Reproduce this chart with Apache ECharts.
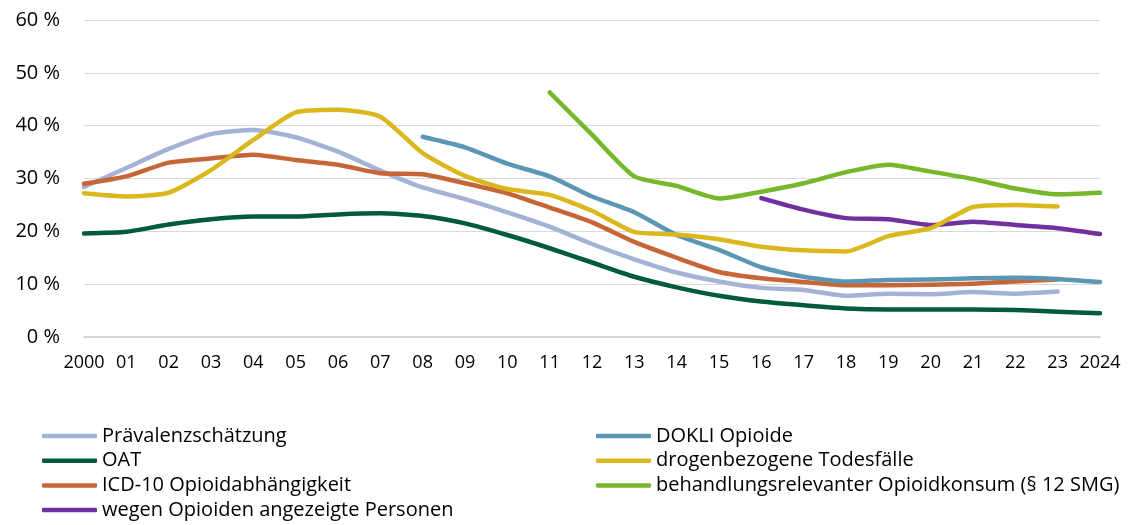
<!DOCTYPE html>
<html>
<head>
    <meta charset="utf-8">
    <title>Opioide</title>
    <script src="https://cdn.jsdelivr.net/npm/echarts@6/dist/echarts.min.js"></script>
    <style>
        body { margin: 0; background: #fff; }
    </style>
</head>
<body>
    <div id="main" style="width: 1131px; height: 525px;"></div>
    <script type="text/javascript">
    var years = ['2000', '01', '02', '03', '04', '05', '06', '07', '08', '09', '10', '11', '12',
        '13', '14', '15', '16', '17', '18', '19', '20', '21', '22', '23', '2024'];

    var praevalenz = [28.4, 32, 35.6, 38.4, 39.2, 37.8, 35.1, 31.5, 28.3, 26.1, 23.6, 20.9, 17.6,
        14.7, 12.2, 10.5, 9.3, 8.9, 7.8, 8.2, 8.1, 8.5, 8.2, 8.6, null];
    var oat = [19.6, 19.9, 21.3, 22.3, 22.8, 22.8, 23.2, 23.4, 22.9, 21.5, 19.3, 16.8, 14.1,
        11.4, 9.4, 7.8, 6.7, 6.0, 5.4, 5.2, 5.2, 5.2, 5.1, 4.8, 4.5];
    var icd10 = [29, 30.4, 33, 33.8, 34.5, 33.5, 32.6, 31, 30.8, 29.1, 27.2, 24.5, 21.7,
        18, 15, 12.3, 11.1, 10.4, 9.8, 9.8, 9.9, 10.1, 10.5, 10.9, null];
    var angezeigt = [null, null, null, null, null, null, null, null, null, null, null, null, null,
        null, null, null, 26.3, 24.1, 22.5, 22.3, 21.2, 21.8, 21.2, 20.6, 19.5];
    var dokli = [null, null, null, null, null, null, null, null, 37.9, 35.9, 32.8, 30.4, 26.6,
        23.6, 19.3, 16.5, 13.2, 11.4, 10.5, 10.8, 10.9, 11.1, 11.2, 11.0, 10.4];
    var todesfaelle = [27.2, 26.6, 27.3, 31.6, 37.3, 42.5, 43, 41.7, 34.8, 30.5, 28, 26.9, 23.9,
        19.9, 19.4, 18.5, 17.1, 16.4, 16.2, 19.1, 20.6, 24.6, 25.0, 24.7, null];
    var behandlung = [null, null, null, null, null, null, null, null, null, null, null, 46.3, 38.3,
        30.4, 28.6, 26.2, 27.5, 29.1, 31.2, 32.6, 31.3, 29.9, 28.1, 27.0, 27.3];

    var yTicks = [0, 10, 20, 30, 40, 50, 60];

    var font = '"Open Sans", "Noto Sans", sans-serif';

    function line(name, data, color) {
        return {
            name: name,
            type: 'line',
            data: data,
            smooth: 0.2,
            symbol: 'none',
            connectNulls: false,
            lineStyle: { width: 4.5, color: color, cap: 'round', join: 'round' },
            itemStyle: { color: color }
        };
    }

    var legendText = { fontFamily: font, fontSize: 20, color: '#000', lineHeight: 20 };

    function legendBox(left, names) {
        return {
            left: left,
            top: 426,
            height: 99,
            padding: 0,
            orient: 'vertical',
            itemWidth: 55,
            itemHeight: 4.5,
            itemGap: 4.7,
            icon: 'roundRect',
            textStyle: legendText,
            data: names
        };
    }

    var myChart = echarts.init(document.getElementById('main'));
    var option = {
        animation: false,
        textStyle: { fontFamily: font },
        grid: { left: 84, right: 31, top: 20, bottom: 188, containLabel: false },
        legend: [
            legendBox(42, ['Prävalenzschätzung', 'OAT', 'ICD-10 Opioidabhängigkeit', 'wegen Opioiden angezeigte Personen']),
            legendBox(596, ['DOKLI Opioide', 'drogenbezogene Todesfälle', 'behandlungsrelevanter Opioidkonsum (§ 12 SMG)'])
        ],
        xAxis: {
            type: 'category',
            data: years,
            boundaryGap: false,
            axisLine: { lineStyle: { color: '#d0d0d0', width: 1.5 } },
            axisTick: { show: false },
            axisLabel: { color: '#000', fontSize: 18, margin: 17, fontFamily: font, interval: 0 }
        },
        yAxis: {
            type: 'value',
            min: yTicks[0],
            max: yTicks[yTicks.length - 1],
            interval: 10,
            axisLine: { show: false },
            axisTick: { show: false },
            splitLine: { lineStyle: { color: '#d9d9d9', width: 1 } },
            axisLabel: {
                color: '#000', fontSize: 20, margin: 24, fontFamily: font,
                formatter: function (v) { return v + ' %'; }
            }
        },
        series: [
            line('Prävalenzschätzung', praevalenz, '#a3b2d6'),
            line('OAT', oat, '#005a3c'),
            line('ICD-10 Opioidabhängigkeit', icd10, '#c86536'),
            line('wegen Opioiden angezeigte Personen', angezeigt, '#7030a0'),
            line('DOKLI Opioide', dokli, '#5b97b5'),
            line('drogenbezogene Todesfälle', todesfaelle, '#dab71c'),
            line('behandlungsrelevanter Opioidkonsum (§ 12 SMG)', behandlung, '#76b82a')
        ]
    };
    myChart.setOption(option);
    </script>
</body>
</html>
